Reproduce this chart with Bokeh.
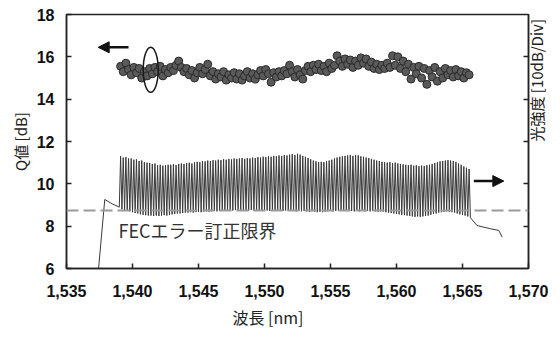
import math
from bokeh.plotting import figure
from bokeh.models import (Range1d, LinearAxis, FixedTicker, NumeralTickFormatter,
                          Span, Label, Arrow, NormalHead, Title)
from bokeh.embed import file_html
from bokeh.resources import INLINE

# ---------------- data ----------------
channel_start_nm = 1539.1
channel_step_nm = 0.2

# Q value per channel [dB] (left axis)
q_values = [
    15.55, 15.3, 15.7, 15.4, 15.15, 15.5, 15.25, 15.45, 15.0, 15.3,
    15.1, 15.45, 15.2, 15.5, 15.3, 15.55, 15.1, 15.4, 15.25, 15.5,
    15.35, 15.6, 15.8, 15.5, 15.3, 15.45, 15.15, 15.35, 15.0, 15.25,
    15.5, 15.2, 15.4, 15.65, 15.1, 15.3, 14.95, 15.2, 15.05, 15.3,
    14.9, 15.15, 15.0, 15.25, 14.95, 15.2, 14.9, 15.1, 15.3, 15.0,
    15.2, 14.95, 15.15, 15.35, 15.1, 15.4, 15.2, 14.8, 15.25, 15.05,
    15.3, 15.1, 15.35, 15.2, 15.6, 15.3, 15.05, 15.4, 15.15, 14.95,
    15.35, 15.55, 15.3, 15.6, 15.4, 15.65, 15.35, 15.55, 15.3, 15.7,
    15.45, 15.6, 16.05, 15.8, 15.55, 15.9, 15.65, 15.85, 15.5, 15.8,
    15.6, 15.95, 15.7, 15.9, 15.55, 15.75, 15.45, 15.65, 15.4, 15.6,
    15.45, 15.7, 15.5, 16.05, 15.6, 16.0, 15.45, 15.8, 15.3, 15.65,
    14.95, 15.5, 15.2, 15.55, 15.0, 15.45, 14.7, 15.35, 15.05, 15.5,
    14.85, 15.3, 15.0, 15.45, 15.15, 15.35, 15.05, 15.4, 15.1, 15.3,
    15.0, 15.25, 15.15,
]

# optical spectrum, channel peaks and inter-channel valleys [dBm] (right axis)
peak_dbm = [
    -33.5, -33.8, -33.7, -34.0,
    -34.0, -34.3, -34.2, -34.6, -34.5,
    -34.9, -35.0, -35.1, -35.3, -35.2,
    -35.6, -35.5, -35.7, -35.6, -35.5,
    -35.5, -35.4, -35.6, -35.3, -35.2,
    -35.3, -35.1, -35.0, -35.2, -34.9,
    -34.8, -34.9, -34.6, -34.7, -34.5,
    -34.6, -34.4, -34.5, -34.3, -34.4,
    -34.2, -34.3, -34.1, -34.2, -34.0,
    -34.1, -34.0, -33.9, -34.1, -33.9,
    -34.0, -33.8, -33.9, -33.7, -33.8,
    -33.6, -33.7, -33.5, -33.6, -33.4,
    -33.5, -33.3, -33.4, -33.2, -33.3,
    -33.1, -33.0, -33.2, -32.9, -33.1,
    -33.4, -33.6, -33.9, -34.2, -34.5,
    -34.7, -34.9, -34.8, -34.9, -34.7,
    -34.5, -34.3, -34.0, -33.8, -33.6,
    -33.5, -33.4, -33.3, -33.2, -33.4,
    -33.2, -33.3, -33.5, -33.6, -33.8,
    -33.9, -34.1, -34.3, -34.5, -34.6,
    -34.8, -34.9, -35.0, -34.9, -35.1,
    -35.0, -35.2, -35.3, -35.4, -35.5,
    -35.6, -35.5, -35.7, -35.6, -35.8,
    -35.7, -35.8, -35.6, -35.5, -35.3,
    -35.1, -34.9, -34.7, -34.6, -34.5,
    -34.4, -34.5, -34.6, -34.8, -35.2,
    -35.5, -35.9, -36.2, -36.5,
]
valley_dbm = [
    -46.0, -46.2, -46.4, -46.5, -46.7, -46.9, -47.0, -47.2, -47.3,
    -47.4, -47.5, -47.5, -47.6, -47.5, -47.6, -47.5, -47.4, -47.5, -47.3,
    -47.2, -47.1, -47.0, -47.0, -46.9, -46.8, -46.8, -46.7, -46.8, -46.7,
    -46.6, -46.7, -46.6, -46.5, -46.6, -46.5, -46.4, -46.5, -46.4, -46.3,
    -46.4, -46.3, -46.2, -46.3, -46.2, -46.3, -46.2, -46.3, -46.2, -46.3,
    -46.2, -46.3, -46.3, -46.2, -46.3, -46.4, -46.3, -46.4, -46.3, -46.4,
    -46.3, -46.4, -46.4, -46.3, -46.4, -46.3, -46.4, -46.5, -46.4, -46.5,
    -46.4, -46.5, -46.6, -46.5, -46.6, -46.7, -46.6, -46.7, -46.6, -46.5,
    -46.4, -46.5, -46.4, -46.3, -46.4, -46.3, -46.4, -46.3, -46.4, -46.5,
    -46.4, -46.5, -46.4, -46.5, -46.4, -46.5, -46.4, -46.5, -46.6, -46.5,
    -46.6, -46.7, -46.8, -46.9, -47.0, -47.1, -47.2, -47.3, -47.4, -47.5,
    -47.6, -47.7, -47.8, -47.7, -47.8, -47.7, -47.6, -47.5, -47.3, -47.1,
    -47.0, -46.8, -46.7, -46.6, -46.5, -46.6, -46.7, -46.8, -47.0, -47.2,
    -47.3, -47.5, -47.7, -48.0,
]
lead_in_nm = [1537.4, 1537.9, 1538.5, 1539.0]
lead_in_dbm = [-61.0, -43.7, -44.8, -45.5]
tail_nm = [1566.1, 1567.1, 1567.75, 1568.0]
tail_dbm = [-49.85, -50.6, -51.0, -52.6]

fec_limit_db = 8.74
x_ticks = [1535, 1540, 1545, 1550, 1555, 1560, 1565, 1570]
y_ticks = [6, 8, 10, 12, 14, 16, 18]
spec_ticks = [-50, -40, -30, -20, -10]

# ---------------- build ----------------
n = min(len(q_values), len(peak_dbm), len(valley_dbm))
channels = [round(channel_start_nm + channel_step_nm * i, 2) for i in range(n)]

spec_x = list(lead_in_nm)
spec_y = list(lead_in_dbm)
for i in range(n):
    spec_x += [channels[i], channels[i] + channel_step_nm / 2]
    spec_y += [peak_dbm[i], valley_dbm[i]]
spec_x += tail_nm
spec_y += tail_dbm

p = figure(width=560, height=337, x_range=Range1d(1535, 1570), y_range=Range1d(6, 18),
           output_backend="svg", toolbar_location=None,
           min_border_left=66, min_border_right=32, min_border_top=14, min_border_bottom=69)
p.extra_y_ranges = {"spec": Range1d(-60, 0)}
p.grid.visible = False
p.outline_line_color = "#222222"
p.outline_line_width = 1.5
p.background_fill_color = "white"
p.border_fill_color = "white"

tick_font = "Liberation Sans"
jp_font = "Noto Sans CJK JP"

xa = p.xaxis[0]
xa.ticker = FixedTicker(ticks=x_ticks)
xa.formatter = NumeralTickFormatter(format="0,0")
ya = p.yaxis[0]
ya.ticker = FixedTicker(ticks=y_ticks)
for ax in (xa, ya):
    ax.major_label_text_font = tick_font
    ax.major_label_text_font_style = "bold"
    ax.major_label_text_font_size = "16px"
    ax.major_label_text_color = "#111111"
    ax.major_tick_in = 5
    ax.major_tick_out = 0
    ax.minor_tick_line_color = None
    ax.axis_line_color = "#222222"
    ax.axis_line_width = 1.5
    ax.major_tick_line_color = "#222222"
    ax.major_tick_line_width = 1.5
xa.major_label_standoff = 16
ya.major_label_standoff = 12

ra = LinearAxis(y_range_name="spec", ticker=FixedTicker(ticks=spec_ticks))
ra.major_label_text_color = None
ra.major_label_standoff = 0
ra.major_tick_in = 5
ra.major_tick_out = 0
ra.minor_tick_line_color = None
ra.axis_line_color = "#222222"
ra.axis_line_width = 1.5
ra.major_tick_line_color = "#222222"
ra.major_tick_line_width = 1.5
ra.axis_label = "光強度 [10dB/Div]"
ra.axis_label_orientation = math.pi / 2
ra.axis_label_standoff = 8
ra.axis_label_text_font = jp_font
ra.axis_label_text_font_style = "normal"
ra.axis_label_text_font_size = "15px"
ra.axis_label_text_color = "#222222"
p.add_layout(ra, "right")

# axis titles
p.add_layout(Title(text="Q値 [dB]", align="center", offset=17, standoff=6,
                   text_font=jp_font, text_font_style="normal", text_font_size="15px",
                   text_color="#222222"), "left")
p.add_layout(Title(text="波長 [nm]", align="left", offset=166, standoff=6,
                   text_font=jp_font, text_font_style="normal", text_font_size="16px",
                   text_color="#222222"), "below")

# FEC limit
p.add_layout(Span(location=fec_limit_db, dimension="width", line_color="#9a9a9a",
                  line_width=2, line_dash="12 5"))

# spectrum
p.line(spec_x, spec_y, y_range_name="spec", line_color="#3a3a3a", line_width=1)

# Q values
p.scatter(x=channels[:n], y=q_values[:n], size=8, fill_color="#5a5a5a",
          line_color="#2a2a2a", line_width=1)

# ellipse marker
p.ellipse(x=[1541.38], y=[15.39], width=15, height=45, width_units="screen",
          height_units="screen", fill_color=None, line_color="#1a1a1a", line_width=1.5)

# arrows
p.add_layout(Arrow(end=NormalHead(size=11, fill_color="#111111", line_color="#111111"),
                   x_start=1539.7, y_start=16.45, x_end=1537.4, y_end=16.45,
                   line_width=2.5, line_color="#111111"))
p.add_layout(Arrow(end=NormalHead(size=11, fill_color="#111111", line_color="#111111"),
                   x_start=1565.86, y_start=10.13, x_end=1568.13, y_end=10.13,
                   line_width=2.5, line_color="#111111"))

# annotation text
p.add_layout(Label(x=1538.94, y=7.8, text="FECエラー訂正限界", text_font=jp_font,
                   text_font_size="18px", text_color="#333333",
                   text_align="left", text_baseline="middle"))

open("out.html", "w").write(file_html(p, INLINE))
